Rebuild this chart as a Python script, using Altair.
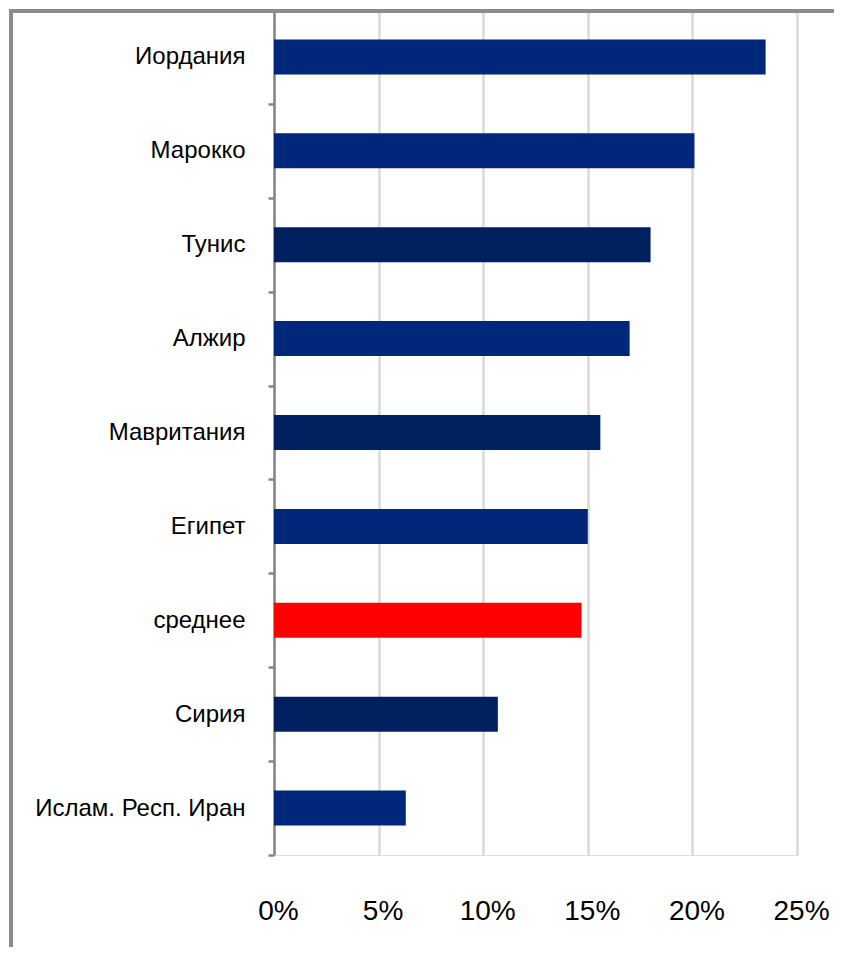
import altair as alt
import pandas as pd

countries = ["Иордания", "Марокко", "Тунис", "Алжир", "Мавритания", "Египет",
             "среднее", "Сирия", "Ислам. Респ. Иран"]
values = [0.235, 0.201, 0.180, 0.170, 0.156, 0.150, 0.147, 0.107, 0.063]
groups = ["A", "A", "B", "A", "B", "A", "avg", "B", "A"]
x_ticks = [0, 0.05, 0.10, 0.15, 0.20, 0.25]

df = pd.DataFrame({"country": countries, "value": values, "group": groups})

W = 523
H = 845
FONT = "Liberation Sans"

bars = alt.Chart(df).mark_bar(size=35).encode(
    x=alt.X("value:Q",
            scale=alt.Scale(domain=[0, 0.25], nice=False),
            axis=alt.Axis(title=None, format=".0%", values=x_ticks, grid=True,
                          gridColor="#d9d9d9", gridWidth=2.5, domain=False,
                          ticks=False, labelFont=FONT, labelFontSize=28,
                          labelColor="black", labelPadding=42, labelOffset=4,
                          labelFlush=False, labelOverlap=False, labelBound=False)),
    y=alt.Y("country:N", sort=countries,
            scale=alt.Scale(paddingInner=0, paddingOuter=0),
            axis=alt.Axis(title=None, domainColor="#868686", domainWidth=2.5,
                          tickColor="#868686", tickWidth=2.5, tickSize=6,
                          tickBand="extent", labelFont=FONT, labelFontSize=24,
                          labelColor="black", labelPadding=23, labelLimit=400,
                          grid=False)),
    color=alt.Color("group:N",
                    scale=alt.Scale(domain=["A", "B", "avg"],
                                    range=["#00277A", "#00205F", "#FF0000"]),
                    legend=None),
)

one = alt.Data(values=[{}])
top_line = alt.Chart(one).mark_rule(color="#8c8c8c", strokeWidth=4).encode(
    x=alt.value(-263), x2=alt.value(W + 40), y=alt.value(1))
left_line = alt.Chart(one).mark_rule(color="#8c8c8c", strokeWidth=4).encode(
    x=alt.value(-263), y=alt.value(-1), y2=alt.value(H + 100))

chart = alt.layer(bars, top_line, left_line).properties(
    width=W, height=H,
    autosize=alt.AutoSizeParams(type="none"),
    padding={"left": 266, "top": 2, "right": 37, "bottom": 92},
).configure_view(stroke=None).configure(background="white")

chart.save("out.html", embed_options={"renderer": "svg", "actions": False})
